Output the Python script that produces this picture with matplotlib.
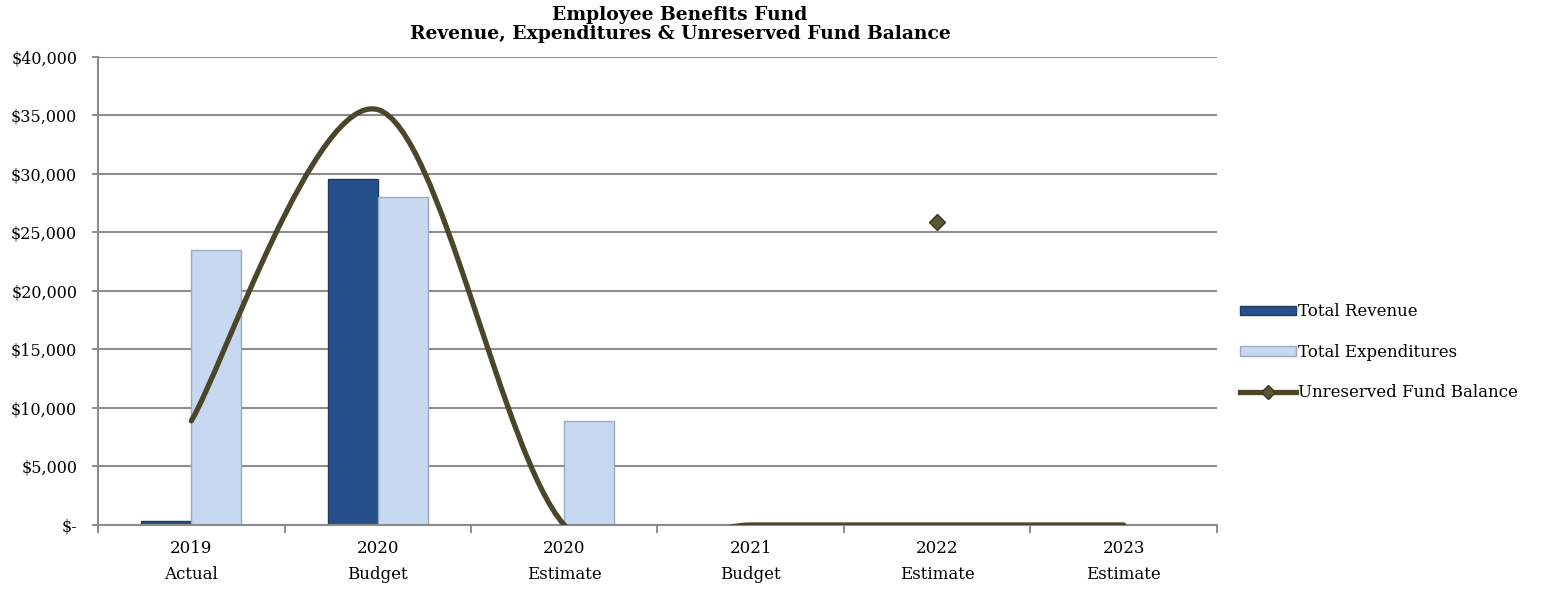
import numpy as np
import matplotlib
matplotlib.use('Agg')
import matplotlib.pyplot as plt
from matplotlib.path import Path
from matplotlib.patches import PathPatch, Patch
from matplotlib.lines import Line2D

plt.rcParams['font.family'] = ['DejaVu Serif']

categories = ['2019\nActual', '2020\nBudget', '2020\nEstimate', '2021\nBudget', '2022\nEstimate', '2023\nEstimate']
revenue = [300, 29600, 0, 0, 0, 0]
expenditures = [23500, 28000, 8900, 0, 0, 0]
fund_balance = [8900, 35500, 0, 0, 0, 0]
marker_pos = 4
marker_value = 25900
yticks = [0, 5000, 10000, 15000, 20000, 25000, 30000, 35000, 40000]
ylabels = ['$-', '$5,000', '$10,000', '$15,000', '$20,000', '$25,000', '$30,000', '$35,000', '$40,000']

REV_C = '#27508A'
EXP_C = '#C6D9F1'
LINE_C = '#4B4629'
GRID_C = '#8C8C8C'

fig = plt.figure(figsize=(15.54, 5.93), dpi=100)
ax = fig.add_axes([0.0631, 0.1147, 0.72, 0.7892])

x = np.arange(len(categories))
w = 0.268
ax.bar(x - w / 2, revenue, w, color=REV_C, edgecolor='#1C3A63', linewidth=1.0, zorder=3)
ax.bar(x + w / 2, expenditures, w, color=EXP_C, edgecolor='#98AAC0', linewidth=1.0, zorder=3)

# smoothed line: cubic bezier segments through each point (catmull-rom style handles)
pts = np.column_stack([x, fund_balance]).astype(float)
n = len(pts)
verts = [tuple(pts[0])]
codes = [Path.MOVETO]
for i in range(n - 1):
    p0 = pts[max(i - 1, 0)]
    p1 = pts[i]
    p2 = pts[i + 1]
    p3 = pts[min(i + 2, n - 1)]
    c1 = p1 + (p2 - p0) / 6
    c2 = p2 - (p3 - p1) / 6
    verts += [tuple(c1), tuple(c2), tuple(p2)]
    codes += [Path.CURVE4] * 3
ax.add_patch(PathPatch(Path(verts, codes), facecolor='none', edgecolor=LINE_C,
                       linewidth=3.8, capstyle='round', zorder=4))
ax.plot([marker_pos], [marker_value], marker='D', ms=8, color='#5A5533',
        markeredgecolor='#3A3620', lw=0, zorder=5)

ax.set_xlim(-0.5, len(categories) - 0.5)
ax.set_ylim(0, 40000)
ax.set_yticks(yticks)
ax.set_yticklabels(ylabels, fontsize=11.5)
ax.set_xticks(x)
ax.set_xticklabels(categories, fontsize=12, linespacing=1.7)
ax.set_xticks(np.arange(-0.5, len(categories)), minor=True)
ax.tick_params(axis='x', which='major', length=0, pad=11)
ax.tick_params(axis='x', which='minor', length=6, width=1.4, color=GRID_C)
ax.tick_params(axis='y', length=4, width=1.4, color=GRID_C, pad=11)
ax.grid(axis='y', color=GRID_C, linewidth=1.5, zorder=0)
ax.set_axisbelow(True)
for s in ('top', 'right'):
    ax.spines[s].set_visible(False)
for s in ('left', 'bottom'):
    ax.spines[s].set_color(GRID_C)
    ax.spines[s].set_linewidth(1.5)
ax.spines['bottom'].set_zorder(3.5)

fig.text(0.4376, 0.99, 'Employee Benefits Fund\nRevenue, Expenditures & Unreserved Fund Balance',
         ha='center', va='top', fontsize=13.5, fontweight='bold', linespacing=1.05)

handles = [Patch(facecolor=REV_C, edgecolor='#1C3A63'),
           Patch(facecolor=EXP_C, edgecolor='#98AAC0'),
           Line2D([], [], color=LINE_C, lw=3.8, marker='D', ms=7, markerfacecolor='#5A5533',
                  markeredgecolor='#3A3620')]
fig.legend(handles, ['Total Revenue', 'Total Expenditures', 'Unreserved Fund Balance'],
           loc='center left', bbox_to_anchor=(0.7935, 0.406), frameon=False, fontsize=12,
           handlelength=3.4, handleheight=0.5, handletextpad=0.1, labelspacing=1.4,
           borderaxespad=0)

fig.savefig('out.png', dpi=100)
